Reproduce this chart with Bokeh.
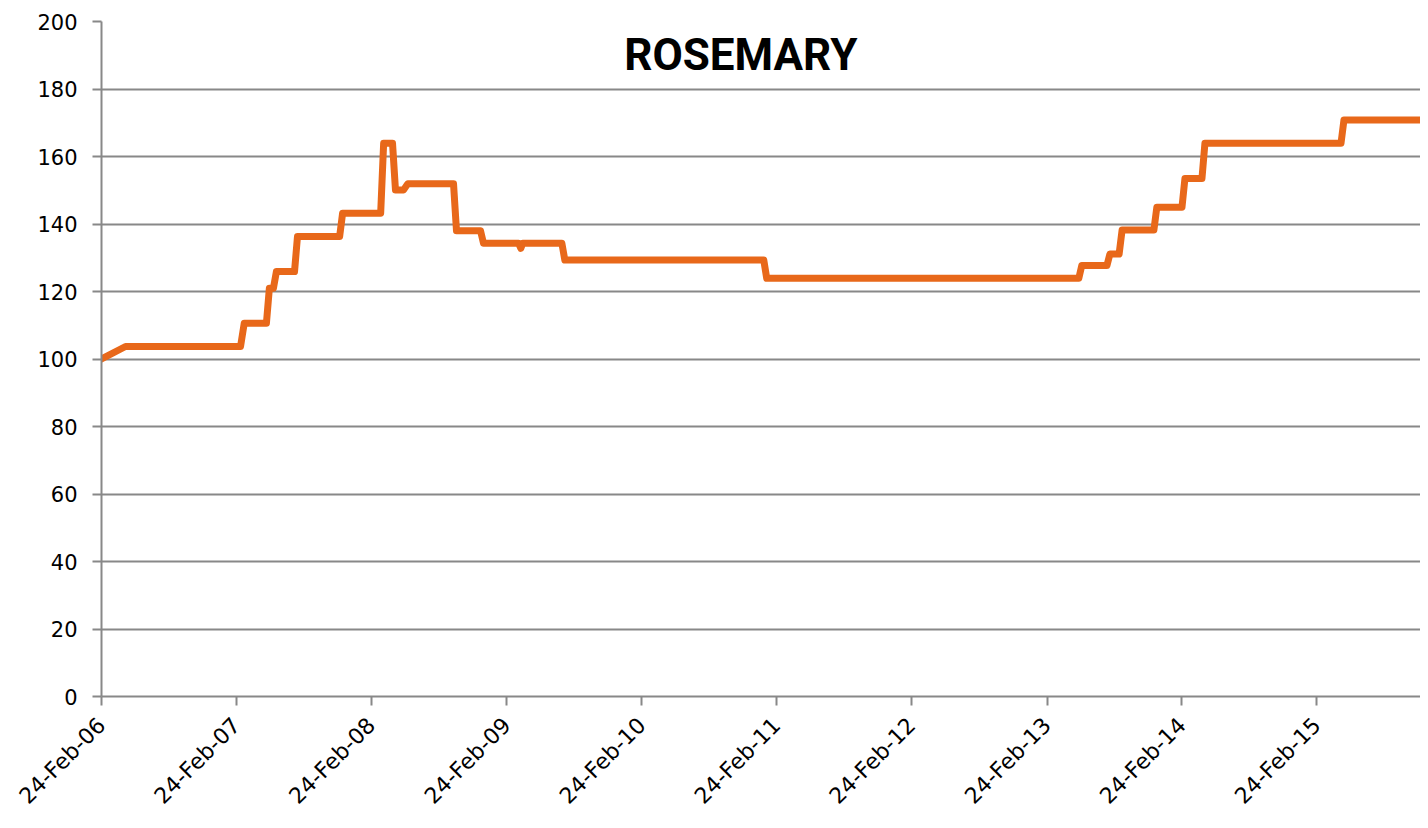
import pandas as pd
from math import pi
from bokeh.plotting import figure
from bokeh.models import FixedTicker, DatetimeTickFormatter, Label, Range1d
from bokeh.embed import file_html
from bokeh.resources import INLINE

# ---- data ----
dates = [
    "2006-02-24", "2006-04-30", "2007-03-07", "2007-03-17", "2007-05-16",
    "2007-05-24", "2007-06-04", "2007-06-12", "2007-07-31", "2007-08-08",
    "2007-11-30", "2007-12-08", "2008-03-20", "2008-03-28", "2008-04-21",
    "2008-04-29", "2008-05-21", "2008-06-01", "2008-10-03", "2008-10-11",
    "2008-12-15", "2008-12-23", "2009-03-28", "2009-04-03", "2009-04-08",
    "2009-07-23", "2009-07-31", "2011-01-20", "2011-01-28", "2013-05-21",
    "2013-05-29", "2013-08-05", "2013-08-13", "2013-09-07", "2013-09-15",
    "2013-12-10", "2013-12-18", "2014-02-24", "2014-03-04", "2014-04-19",
    "2014-04-27", "2015-04-30", "2015-05-08", "2015-12-24",
]
values = [
    100.0, 103.7, 103.7, 110.6, 110.6,
    121.0, 121.0, 125.9, 125.9, 136.3,
    136.3, 143.2, 143.2, 163.9, 163.9,
    150.1, 150.1, 151.9, 151.9, 138.0,
    138.0, 134.3, 134.3, 132.8, 134.3,
    134.3, 129.3, 129.3, 123.9, 123.9,
    127.7, 127.7, 131.1, 131.1, 138.2,
    138.2, 145.0, 145.0, 153.5, 153.5,
    163.9, 163.9, 170.8, 170.8,
]
tick_dates = [
    "2006-02-24", "2007-02-24", "2008-02-24", "2009-02-24", "2010-02-24",
    "2011-02-24", "2012-02-24", "2013-02-24", "2014-02-24", "2015-02-24",
]
y_ticks = [0, 20, 40, 60, 80, 100, 120, 140, 160, 180, 200]
title_text = "ROSEMARY"
x_start, x_end = "2006-02-24", "2015-12-01"
title_x, title_y = "2010-11-19", 190

# ---- style ----
ORANGE = "#E8681A"
GRAY = "#888888"
FONT = "DejaVu Sans"


def ms(d):
    return pd.Timestamp(d).value / 1e6


x = pd.to_datetime(dates)

p = figure(
    width=1420, height=820,
    x_axis_type="datetime",
    x_range=Range1d(ms(x_start), ms(x_end)),
    y_range=Range1d(0, 200),
    output_backend="svg", toolbar_location=None,
    min_border_left=101, min_border_right=0,
    min_border_top=21, min_border_bottom=123,
)
p.outline_line_color = None
p.background_fill_color = "white"
p.border_fill_color = "white"

p.line(x, values, line_color=ORANGE, line_width=7, line_join="round", line_cap="round")

# x axis
xa = p.xaxis[0]
xa.ticker = FixedTicker(ticks=[ms(d) for d in tick_dates], minor_ticks=[])
fmt = "%d-%b-%y"
xa.formatter = DatetimeTickFormatter(
    microseconds=fmt, milliseconds=fmt, seconds=fmt, minsec=fmt, minutes=fmt,
    hourmin=fmt, hours=fmt, days=fmt, months=fmt, years=fmt,
)
xa.major_label_orientation = pi / 4
xa.major_label_standoff = 16
xa.major_label_text_font = FONT
xa.major_label_text_font_size = "22px"
xa.major_label_text_color = "black"
xa.axis_line_color = GRAY
xa.axis_line_width = 2
xa.major_tick_line_color = GRAY
xa.major_tick_line_width = 2
xa.major_tick_out = 9
xa.major_tick_in = 0
xa.minor_tick_line_color = None

# y axis
ya = p.yaxis[0]
ya.ticker = FixedTicker(ticks=y_ticks, minor_ticks=[])
ya.major_label_standoff = 15
ya.major_label_text_font = FONT
ya.major_label_text_font_size = "21px"
ya.major_label_text_color = "black"
ya.axis_line_color = GRAY
ya.axis_line_width = 2
ya.major_tick_line_color = GRAY
ya.major_tick_line_width = 2
ya.major_tick_out = 9
ya.major_tick_in = 0
ya.minor_tick_line_color = None

p.xgrid.grid_line_color = None
p.ygrid.grid_line_color = GRAY
p.ygrid.grid_line_width = 2

p.add_layout(Label(
    x=ms(title_x), y=title_y, text=title_text,
    text_align="center", text_baseline="middle",
    text_font="Roboto", text_font_style="bold", text_font_size="44px",
    text_color="black",
))

open("out.html", "w").write(file_html(p, INLINE))
